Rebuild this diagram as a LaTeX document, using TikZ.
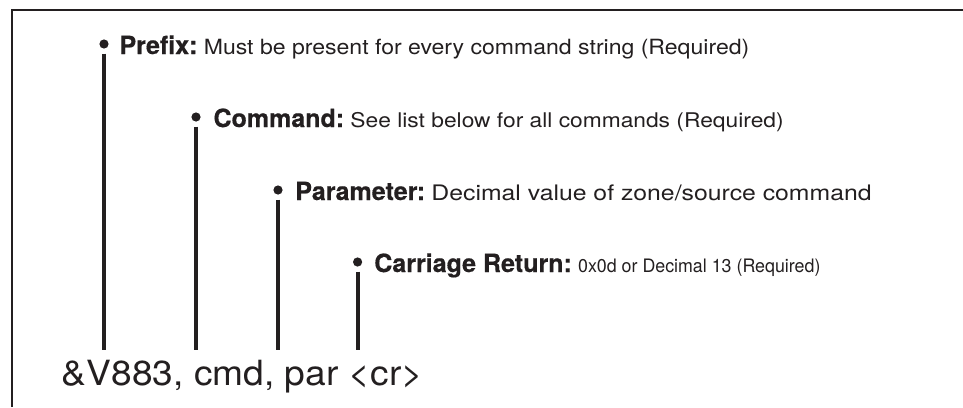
\documentclass[tikz,border=0pt]{standalone}
\usepackage{fontspec}
\setmainfont{TeX Gyre Heros}
\usetikzlibrary{positioning}
\definecolor{ink}{HTML}{231F20}
\newcommand{\lblhead}[1]{{\fontsize{17.8}{20}\selectfont\bfseries\addfontfeature{FakeBold=0.5}#1}\hspace{0.45em}}
\newcommand{\lbltext}[3]{{\fontsize{#1}{#1}\selectfont\addfontfeature{FakeStretch=#2}#3}}

\begin{document}
\begin{tikzpicture}
  [dotN/.style={circle,fill=ink,inner sep=0pt,minimum size=0.23cm},
   lbl/.style={anchor=base west,inner sep=0pt,text=ink},
   stem/.style={draw=ink,line width=2.85pt,shorten <=3.4pt}]
  \useasboundingbox (0,0) rectangle (24.075,10.175);

  % frame
  \draw [ink,line width=1.9pt] (0.3,0) -- (0.3,9.925) -- (24.075,9.925);

  \node at (2.6,9.075)  [dotN] (pdot) {};
  \node at (4.9,7.25)   [dotN] (cdot) {};
  \node at (6.95,5.425) [dotN] (adot) {};
  \node at (8.94,3.625) [dotN] (rdot) {};

  \node at (2.98,8.825) [lbl] (prefix)  {\lblhead{Prefix:}\lbltext{14.9}{1.1}{Must be present for every command string (Required)}};
  \node at (5.33,7.0)   [lbl] (command) {\lblhead{Command:}\lbltext{14.4}{1.125}{See list below for all commands (Required)}};
  \node at (7.375,5.175)[lbl] (param)   {\lblhead{Parameter:}\lbltext{15.2}{1.16}{Decimal value of zone/source command}};
  \node at (9.35,3.375) [lbl] (cret)    {\lblhead{Carriage Return:}\lbltext{13.2}{0.96}{0x0d or Decimal 13 (Required)}};

  \node at (1.54,0.55) [lbl] (cmdstr) {\lbltext{24.7}{1.07}{\&V883, cmd, par <cr>}};

  \coordinate (pend) at (2.6,1.425);
  \coordinate (cend) at (4.9,1.425);
  \coordinate (aend) at (6.95,1.425);
  \coordinate (rend) at (8.94,1.425);

  \draw [stem] (pdot) -- (pend);
  \draw [stem] (cdot) -- (cend);
  \draw [stem] (adot) -- (aend);
  \draw [stem] (rdot) -- (rend);
\end{tikzpicture}
\end{document}
